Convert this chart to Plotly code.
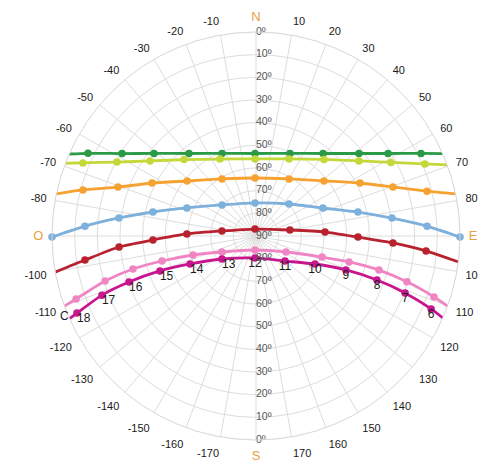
import plotly.graph_objects as go

# ---- data: solar azimuth (deg, N=0, clockwise) and altitude (deg) ----
green_az  = [-63.8, -58.4, -51.0, -39.1, -22.4, -0.7, 22.4, 39.1, 51.3, 58.0, 63.4]
green_alt = [7.4, 20.6, 32.1, 43.1, 50.6, 53.6, 50.6, 43.1, 31.8, 21.3, 8.6]
green_ends = [-66.3, 66.2]

yellow_az  = [-67.1, -62.0, -54.7, -43.3, -25.1, -0.7, 23.2, 41.6, 53.9, 61.4, 66.9]
yellow_alt = [7.1, 20.5, 32.7, 43.7, 52.5, 56.0, 53.0, 44.8, 33.8, 22.2, 9.0]
yellow_ends = [-69.1, 69.6]

orange_az  = [-75.1, -70.5, -63.0, -51.4, -30.8, -1.0, 30.1, 51.0, 63.0, 70.3, 75.3]
orange_alt = [11.0, 25.4, 38.5, 51.1, 60.7, 64.4, 60.9, 51.4, 38.5, 25.8, 12.0]
orange_ends = [-78.1, 78.1]

blue_az  = [-90.3, -86.7, -82.5, -76.9, -67.9, -47.6, -1.7, 45.9, 67.3, 76.8, 82.5, 86.7, 90.3]
blue_alt = [0.0, 14.4, 29.0, 43.3, 57.1, 69.7, 75.4, 69.7, 58.0, 43.8, 29.5, 14.4, 0.0]
blue_ends = [-90.3, 90.3]

red_az  = [-98.0, -94.6, -92.2, -88.3, -81.6, -8.1, 80.0, 86.7, 90.6, 92.9, 95.0]
red_alt = [13.8, 29.4, 44.5, 59.5, 74.8, 86.9, 74.8, 59.5, 45.0, 29.5, 14.7]
red_ends = [-100.2, 97.3]

pink_az  = [-109.3, -106.6, -105.0, -104.9, -106.8, -115.2, -175.9, 118.1, 107.7, 105.6, 105.5, 106.9, 108.9]
pink_alt = [5.9, 20.5, 33.8, 47.1, 61.0, 73.4, 83.8, 75.0, 59.4, 47.4, 33.7, 20.4, 7.0]
pink_ends = [-110.1, 110.1]

mag_az  = [-113.3, -111.0, -109.9, -110.0, -113.0, -124.1, -177.4, 130.8, 115.4, 110.7, 110.0, 110.9, 112.6]
mag_alt = [4.0, 17.2, 30.4, 44.9, 58.4, 71.9, 80.3, 73.1, 61.2, 47.6, 33.2, 19.6, 6.3]
mag_ends = [-113.9, 113.7]
hour_labels = ["18", "17", "16", "15", "14", "13", "12", "11", "10", "9", "8", "7", "6"]

alt_ticks = [0, 10, 20, 30, 40, 50, 60, 70, 80, 90]
az_ticks = list(range(0, 360, 10))

series = [
    (green_az, green_alt, green_ends, "#2b9a47"),
    (yellow_az, yellow_alt, yellow_ends, "#c4d83a"),
    (orange_az, orange_alt, orange_ends, "#f5a232"),
    (blue_az, blue_alt, blue_ends, "#7db0db"),
    (red_az, red_alt, red_ends, "#b8222e"),
    (pink_az, pink_alt, pink_ends, "#f085c4"),
    (mag_az, mag_alt, mag_ends, "#c8168e"),
]

ORANGE = "#e9a043"
FONT = "Liberation Sans, Arial, sans-serif"

def r_of(alts):
    return [90 - a for a in alts]

fig = go.Figure()
for az, alt, ends, col in series:
    line_az = [ends[0]] + az + [ends[1]]
    line_alt = [0] + alt + [0]
    fig.add_trace(go.Scatterpolar(
        theta=line_az, r=r_of(line_alt), mode="lines",
        line=dict(color=col, width=2.8, shape="spline", smoothing=0.6),
        hoverinfo="skip", showlegend=False))
    fig.add_trace(go.Scatterpolar(
        theta=az, r=r_of(alt), mode="markers",
        marker=dict(color=col, size=7.5), showlegend=False))

# hour labels on the magenta path
pos = ["bottom right"] * 6 + ["bottom center"] * 7
fig.add_trace(go.Scatterpolar(
    theta=mag_az, r=r_of(mag_alt), mode="text", text=hour_labels,
    textposition=pos, textfont=dict(size=12, color="#1a1a1a", family=FONT),
    marker=dict(size=14),
    cliponaxis=False, showlegend=False, hoverinfo="skip"))

# altitude labels along the N and S axis
fig.add_trace(go.Scatterpolar(
    theta=[0] * len(alt_ticks), r=r_of(alt_ticks), mode="text",
    text=[f"{a}º" for a in alt_ticks], textposition="middle right",
    textfont=dict(size=10.5, color="#555555", family=FONT),
    cliponaxis=False, showlegend=False, hoverinfo="skip"))
fig.add_trace(go.Scatterpolar(
    theta=[180] * (len(alt_ticks) - 1), r=r_of(alt_ticks[:-1]), mode="text",
    text=[f"{a}º" for a in alt_ticks[:-1]], textposition="middle right",
    textfont=dict(size=10.5, color="#555555", family=FONT),
    cliponaxis=False, showlegend=False, hoverinfo="skip"))

def az_label(a):
    names = {0: "N", 90: "E", 180: "S", 270: "O"}
    if a in names:
        return f"<span style='color:{ORANGE}; font-size:13px'>{names[a]}</span>"
    return str(a if a < 180 else a - 360)

fig.update_layout(
    width=478, height=462,
    margin=dict(l=44, r=26, t=24, b=30, autoexpand=False),
    paper_bgcolor="white",
    font=dict(family=FONT, color="#1a1a1a", size=11),
    polar=dict(
        bgcolor="white",
        domain=dict(x=[0, 1], y=[0, 1]),
        angularaxis=dict(
            rotation=90, direction="clockwise",
            tickmode="array", tickvals=az_ticks,
            ticktext=[az_label(a) for a in az_ticks],
            showgrid=True, gridcolor="#dddddd", gridwidth=1,
            showline=True, linecolor="#d6d6d6", linewidth=1,
            ticks="outside", ticklen=6, tickcolor="rgba(0,0,0,0)",
            tickfont=dict(size=11, color="#1a1a1a")),
        radialaxis=dict(
            range=[0, 90], tickmode="array", tickvals=alt_ticks[1:],
            showticklabels=False, ticks="", showline=False,
            showgrid=True, gridcolor="#dddddd", gridwidth=1),
    ),
    annotations=[dict(text="C", x=(58 - 52) / 408, y=(440 - 325) / 408,
                      xref="paper", yref="paper", showarrow=False,
                      font=dict(size=12, color="#1a1a1a", family=FONT))],
)

fig.write_html("out.html")
